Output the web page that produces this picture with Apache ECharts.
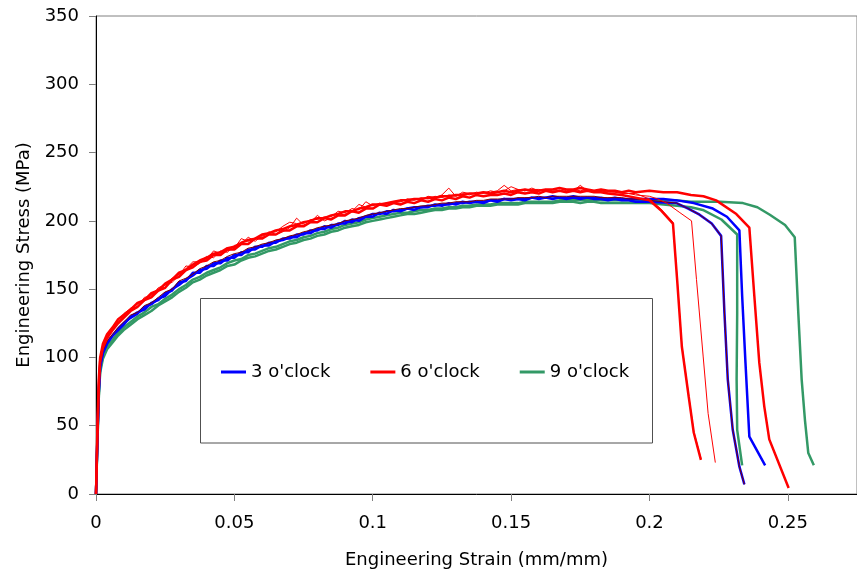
<!DOCTYPE html>
<html>
<head>
<meta charset="utf-8">
<script src="https://cdn.jsdelivr.net/npm/echarts@6/dist/echarts.min.js"></script>
<style>
html,body{margin:0;padding:0;background:#fff;}
#c{width:857px;height:577px;}
</style>
</head>
<body>
<div id="c"></div>
<script>
// Common strain positions for the curve bodies (mm/mm)
const strain = [0,0.0005,0.001,0.0015,0.0025,0.004,0.006,0.008,
0.01,0.0125,0.015,0.0175,0.02,0.0225,0.025,0.0275,0.03,0.0325,
0.035,0.0375,0.04,0.0425,0.045,0.0475,0.05,0.0525,0.055,0.0575,
0.06,0.0625,0.065,0.0675,0.07,0.0725,0.075,0.0775,0.08,0.0825,
0.085,0.0875,0.09,0.0925,0.095,0.0975,0.1,0.1025,0.105,0.1075,
0.11,0.1125,0.115,0.1175,0.12,0.1225,0.125,0.1275,0.13,0.1325,
0.135,0.1375,0.14,0.1425,0.145,0.1475,0.15,0.1525,0.155,0.1575,
0.16,0.1625,0.165,0.1675,0.17,0.1725,0.175,0.1775,0.18,0.1825,
0.185,0.1875,0.19,0.1925,0.195];

const categories = ["3 o'clock", "6 o'clock", "9 o'clock"];
const xTicks = [0, 0.05, 0.1, 0.15, 0.2, 0.25];
const yTicks = [0, 50, 100, 150, 200, 250, 300, 350];

// ---- 6 o'clock (red) ----
const redA = [0,42,78,97,107,114,120,125,
129,134,137,142,144,149,151,157,159,164,
166,170,171,175,175,179,179,183,183,187,
187,190,190,193,193,196,196,199,199,202,
201,204,204,207,206,209,209,212,211,213,
212,214,213,215,214,216,215,217,216,218,
217,219,218,219,219,220,219,221,220,221,
220,222,221,222,221,222,221,222,221,221,220];
const redATailX = [0.19,0.195,0.2,0.204,0.2085,0.21,0.2117,0.2142,0.216,0.2186];
const redATailY = [219,217,215,208,198,157,108,71,45,25];

const redB = [0,48,84,100,110,117,122,128,
131,135,140,142,147,149,154,157,162,164,
168,171,173,176,177,180,181,184,186,187,
190,191,193,194,196,197,199,200,202,202,
204,205,207,207,209,210,212,212,213,214,
215,215,216,216,217,217,218,218,219,219,
220,220,221,220,221,222,221,222,223,222,
222,223,223,224,223,223,224,223,222,223,
222,222,221,222,221];
const redBTailX = [0.2,0.205,0.21,0.215,0.2195,0.2241,0.2314,0.2361,0.2379,0.2397,0.2415,0.2433,0.2503];
const redBTailY = [222,221,221,219,218,215,205,195,145,96,64,40,4.4];

const redThin1 = [0,46,82,99,109,116,121,127,
132,136,139,143,146,150,153,158,161,165,
170,170,174,173,178,177,182,183,188,185,
189,191,192,196,199,198,198,201,201,203,
203,207,206,209,208,214,211,213,212,214,
214,216,215,217,216,218,217,219,218,220,
219,221,220,222,221,222,225,223,222,223,
223,222,223,224,222,223,222,223,222,222,
221,221,220,220,219];
const redThin1TailX = [0.2,0.203,0.2062,0.211,0.2152,0.217,0.2194,0.2212,0.2238];
const redThin1TailY = [218,216,213,206,200,157,101,59,23];

const redThin2 = [0,44,81,98,108,115,121,126,
130,136,137,144,145,151,153,155,160,167,
166,169,172,178,176,178,180,187,185,187,
188,192,190,192,195,202,197,199,204,200,
202,204,205,207,212,210,209,212,213,213,
214,216,216,215,218,217,219,224,218,221,
220,220,221,221,222,226,222,223,222,224,
222,223,222,222,223,222,226,222,222,221,
222,221,221,220,220];
const redThin2TailX = [0.2,0.204,0.2085,0.21,0.2117,0.2142,0.216,0.2186];
const redThin2TailY = [216,209,199,158,109,72,46,26];

const maroon = [0,42,77,95,105,112,117,122,
126,131,133,138,140,144,148,150,156,158,
161,165,167,170,171,174,176,177,180,181,
183,184,186,187,189,190,192,193,195,196,
197,198,200,201,202,204,205,206,207,208,
209,209,210,211,211,212,213,213,214,214,
214,215,215,216,216,216,216,217,217,217,
218,217,218,218,218,218,218,218,218,217,
217,217,217,216,216];
const maroonTailX = [0.2,0.205,0.2098,0.214,0.2181,0.2225,0.2259,0.2271,0.2283,0.2301,0.2325,0.2343];
const maroonTailY = [215,214,213,209,204.5,198,189,132.5,84,47,20,7];

// ---- 3 o'clock (blue) ----
const blueA = [0,40,76,94,104,111,116,121,
125,129,132,137,139,143,145,150,153,157,
160,164,165,169,169,173,173,177,177,181,
181,184,184,187,187,190,190,193,193,196,
195,198,198,201,200,203,203,206,205,208,
207,209,208,210,210,212,211,213,212,214,
213,214,213,215,214,216,215,216,215,217,
216,217,216,217,216,217,216,217,216,216,
215,216,215,215,214];
const blueATailX = [0.2,0.205,0.2098,0.214,0.2181,0.2225,0.2259,0.2271,0.2283,0.2301,0.2325,0.2343];
const blueATailY = [214,213.5,213,209,204.5,198,189,132.5,84,47,20,7];

const blueB = [0,41,74,93,103,110,116,120,
124,130,133,135,140,142,147,149,155,156,
162,162,167,167,171,171,175,175,179,179,
182,182,185,186,188,188,191,191,194,194,
197,197,200,199,202,203,205,205,207,207,
208,209,210,210,211,211,212,212,213,213,
214,214,214,215,215,216,216,216,216,217,
217,217,218,217,217,218,217,217,217,217,
216,217,216,216,216];
const blueBTailX = [0.2,0.205,0.21,0.216,0.2229,0.228,0.2325,0.2335,0.2347,0.2361,0.2418];
const blueBTailY = [216,216,215,213,209,203,193,145,96,42,21];

// ---- 9 o'clock (green) ----
const greenA = [0,36,70,89,99,106,111,116,
120,124,128,131,134,138,141,144,148,151,
155,157,160,162,164,167,168,171,173,174,
176,178,179,181,183,184,186,187,189,190,
192,193,195,196,197,199,200,201,202,203,
204,205,205,206,207,208,208,209,209,210,
210,211,211,211,212,212,212,212,213,213,
213,213,213,214,214,214,213,214,214,213,
213,213,213,213,213];
const greenATailX = [0.2,0.205,0.21,0.215,0.2193,0.226,0.2317,0.2317,0.2315,0.2317,0.2335];
const greenATailY = [213,212,211,210,208,201,190,132,84,47,21];

const greenB = [0,38,72,91,101,108,113,118,
122,126,130,133,137,139,143,146,150,153,
157,159,162,164,166,169,171,172,175,176,
178,180,181,183,185,186,188,189,191,192,
194,195,197,198,199,201,202,203,204,205,
206,206,207,208,208,209,209,210,210,211,
211,212,212,212,213,213,213,213,214,214,
214,214,214,215,215,215,215,215,215,215,
215,215,215,215,215];
const greenBTailX = [0.2,0.205,0.21,0.215,0.22,0.2255,0.2338,0.239,0.2435,0.249,0.2525,0.2538,0.255,0.2562,0.2574,0.2594];
const greenBTailY = [215,215,215,214,214,214,213,210,204.5,197,188,132,84,54,30,21];

function build(body, tx, ty) {
  const d = [];
  for (let i = 0; i < body.length && i < strain.length; i++) d.push([strain[i], body[i]]);
  for (let j = 0; j < tx.length; j++) d.push([tx[j], ty[j]]);
  return d;
}

const BLUE = '#0000FF', RED = '#FF0000', GREEN = '#339966', MAROON = '#800000';
function ser(name, color, width, data) {
  return {
    type: 'line', name: name, data: data, symbol: 'none', showSymbol: false,
    lineStyle: { color: color, width: width }, itemStyle: { color: color },
    silent: true, animation: false, clip: true, z: 2
  };
}

const series = [
  ser(categories[2], GREEN, 2.5, build(greenA, greenATailX, greenATailY)),
  ser(categories[2], GREEN, 2.5, build(greenB, greenBTailX, greenBTailY)),
  ser(categories[0], BLUE, 2.5, build(blueA, blueATailX, blueATailY)),
  ser(categories[0], BLUE, 2.5, build(blueB, blueBTailX, blueBTailY)),
  ser('extra', MAROON, 1, build(maroon, maroonTailX, maroonTailY)),
  ser(categories[1], RED, 1, build(redThin2, redThin2TailX, redThin2TailY)),
  ser(categories[1], RED, 2.5, build(redA, redATailX, redATailY)),
  ser(categories[1], RED, 2.5, build(redB, redBTailX, redBTailY)),
  ser(categories[1], RED, 1, build(redThin1, redThin1TailX, redThin1TailY))
];

const FONT = 'DejaVu Sans';
const chart = echarts.init(document.getElementById('c'), null, { renderer: 'canvas' });
chart.setOption({
  animation: false,
  backgroundColor: '#ffffff',
  grid: { left: 96, top: 16, width: 765, height: 478, show: true, borderColor: '#808080', borderWidth: 1, containLabel: false },
  xAxis: {
    type: 'value', min: 0, max: 0.275, interval: 0.05,
    name: 'Engineering Strain (mm/mm)', nameLocation: 'middle', nameGap: 57,
    nameTextStyle: { fontFamily: FONT, fontSize: 18, color: '#000' },
    axisLine: { show: true, onZero: false, lineStyle: { color: '#000', width: 1 } },
    axisTick: { show: true, inside: false, length: 7, lineStyle: { color: '#808080' }, customValues: xTicks },
    axisLabel: { fontFamily: FONT, fontSize: 18, color: '#000', margin: 20, customValues: xTicks,
      formatter: function (v) { return String(v); } },
    splitLine: { show: false }
  },
  yAxis: {
    type: 'value', min: 0, max: 350, interval: 50,
    name: 'Engineering Stress (MPa)', nameLocation: 'middle', nameGap: 62,
    nameTextStyle: { fontFamily: FONT, fontSize: 18, color: '#000' },
    axisLine: { show: true, onZero: false, lineStyle: { color: '#000', width: 1 } },
    axisTick: { show: true, inside: false, length: 7, lineStyle: { color: '#808080' }, customValues: yTicks },
    axisLabel: { fontFamily: FONT, fontSize: 18, color: '#000', margin: 17, customValues: yTicks },
    splitLine: { show: false }
  },
  legend: {
    show: true, z: 10, left: 221, top: 363, padding: 0, itemGap: 40, itemWidth: 25, itemHeight: 3,
    icon: 'rect', selectedMode: false,
    textStyle: { fontFamily: FONT, fontSize: 18, color: '#000' },
    data: [
      { name: categories[0], itemStyle: { color: BLUE } },
      { name: categories[1], itemStyle: { color: RED } },
      { name: categories[2], itemStyle: { color: GREEN } }
    ]
  },
  graphic: [
    { type: 'rect', z: 1, silent: true,
      shape: { x: 200.5, y: 298.5, width: 452, height: 144.5 },
      style: { fill: '#ffffff', stroke: '#505050', lineWidth: 1 } }
  ],
  series: series
});
</script>
</body>
</html>
